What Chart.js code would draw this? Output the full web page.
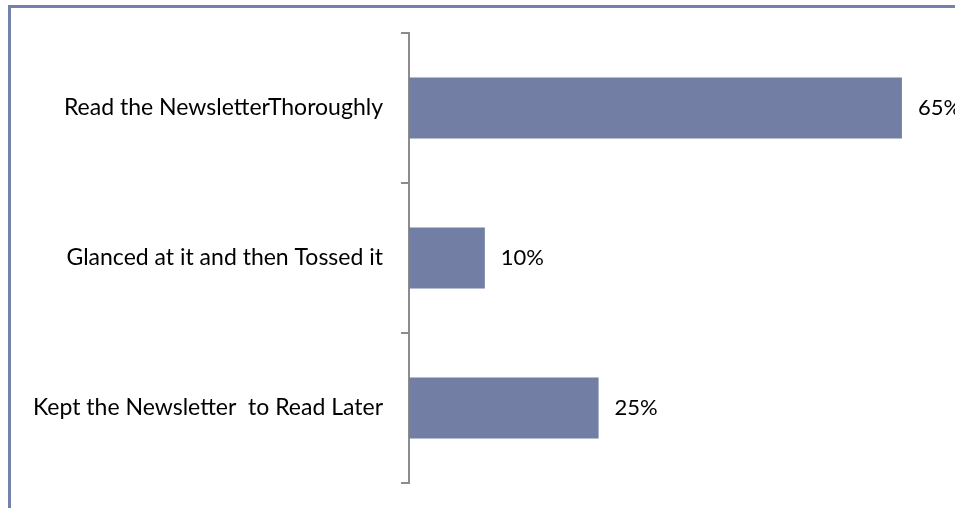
<!DOCTYPE html>
<html>
<head>
<meta charset="utf-8">
<script src="https://cdn.jsdelivr.net/npm/chart.js@4/dist/chart.umd.min.js"></script>
<style>
  html, body { margin: 0; padding: 0; background: #fff; overflow: hidden; }
  #wrap { position: relative; width: 955px; height: 508px; }
</style>
</head>
<body>
<div id="wrap"><canvas id="newsletterChart" width="955" height="508"></canvas></div>
<script>
  'use strict'

  const categories = [
    'Read the NewsletterThoroughly',
    'Glanced at it and then Tossed it',
    'Kept the Newsletter  to Read Later'
  ];
  const percentages = [65, 10, 25];
  const axisMax = 72;

  const barColor = '#727ea4';
  const frameColor = '#7581a9';
  const fontFamily = 'Lato, "Open Sans", sans-serif';

  // outer frame, top and left edges only
  const framePlugin = {
    id: 'frame',
    beforeDraw (chart) {
      const c = chart.ctx;
      c.save();
      c.fillStyle = frameColor;
      c.fillRect(8, 5, chart.width - 8, 3);
      c.fillRect(8, 5, 3, chart.height - 5);
      c.restore();
    }
  };

  // percentage text to the right of each bar
  const valueLabels = {
    id: 'valueLabels',
    afterDatasetsDraw (chart) {
      const c = chart.ctx;
      const meta = chart.getDatasetMeta(0);
      c.save();
      c.font = '22px ' + fontFamily;
      c.fillStyle = '#000';
      c.textAlign = 'left';
      c.textBaseline = 'middle';
      meta.data.forEach((bar, i) => {
        c.fillText(percentages[i] + '%', bar.x + 16, bar.y);
      });
      c.restore();
    }
  };

  const ctx = document.getElementById('newsletterChart');

  new Chart(ctx, {
    type: 'bar',
    data: {
      labels: categories,
      datasets: [{
        data: percentages,
        backgroundColor: barColor,
        borderWidth: 0,
        categoryPercentage: 1,
        barPercentage: 0.407
      }]
    },
    options: {
      indexAxis: 'y',
      responsive: false,
      animation: false,
      layout: { padding: { top: 33, bottom: 25, left: 0, right: 0 } },
      plugins: {
        legend: { display: false },
        tooltip: { enabled: false }
      },
      scales: {
        x: {
          display: false,
          min: 0,
          max: axisMax
        },
        y: {
          afterFit: function (scale) {
            // fixed label column, and no extra room for the end labels
            scale.width = 409;
            scale.paddingTop = 0;
            scale.paddingBottom = 0;
          },
          grid: {
            offset: true,
            drawOnChartArea: false,
            drawTicks: true,
            tickLength: 8,
            color: '#8c8c8c',
            lineWidth: 2
          },
          border: {
            display: true,
            color: '#8c8c8c',
            width: 2
          },
          ticks: {
            color: '#000',
            padding: 18,
            font: { family: fontFamily, size: 23 }
          }
        }
      }
    },
    plugins: [framePlugin, valueLabels]
  });
</script>
</body>
</html>
